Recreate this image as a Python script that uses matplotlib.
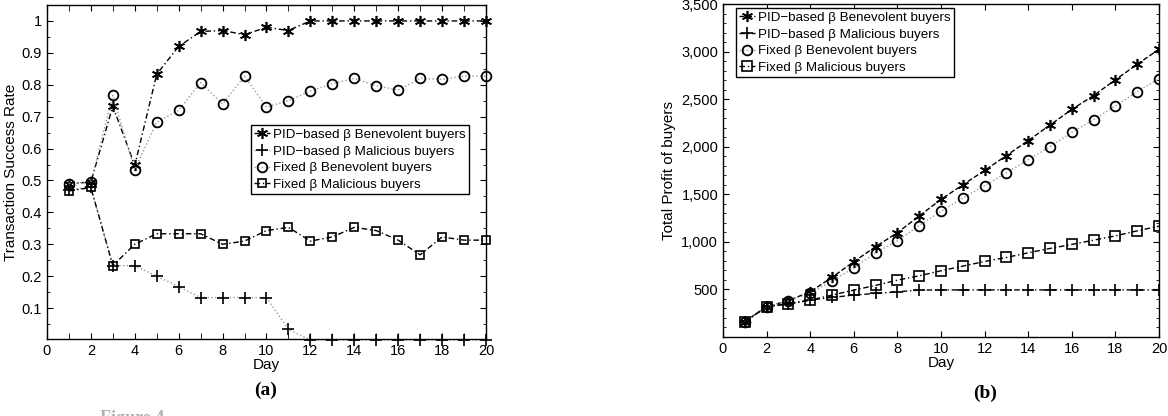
import numpy as np
import matplotlib
matplotlib.use('Agg')
import matplotlib.pyplot as plt
from matplotlib.ticker import MultipleLocator, FuncFormatter

plt.rcParams['font.family'] = ['Liberation Sans', 'DejaVu Sans']

days = np.arange(1, 21)

# (a) transaction success rate
rate_pid_ben = [0.49, 0.495, 0.733, 0.547, 0.833, 0.92, 0.967, 0.97, 0.957, 0.98,
                0.97, 1.0, 1.0, 1.0, 1.0, 1.0, 1.0, 1.0, 1.0, 1.0]
rate_pid_mal = [0.47, 0.48, 0.233, 0.233, 0.2, 0.167, 0.133, 0.133, 0.133, 0.133,
                0.033, 0.0, 0.0, 0.0, 0.0, 0.0, 0.0, 0.0, 0.0, 0.0]
rate_fix_ben = [0.49, 0.495, 0.767, 0.533, 0.683, 0.72, 0.807, 0.74, 0.827, 0.73,
                0.75, 0.78, 0.803, 0.82, 0.797, 0.783, 0.82, 0.817, 0.827, 0.827]
rate_fix_mal = [0.467, 0.478, 0.233, 0.3, 0.333, 0.333, 0.333, 0.3, 0.31, 0.343,
                0.353, 0.31, 0.323, 0.353, 0.343, 0.313, 0.267, 0.323, 0.313, 0.313]

# (b) total profit
prof_pid_ben = [161, 319, 382, 476, 627, 791, 950, 1096, 1272, 1447,
                1600, 1751, 1908, 2065, 2229, 2393, 2539, 2704, 2868, 3025]
prof_pid_mal = [161, 319, 350, 388, 416, 440, 458, 475, 493, 495,
                495, 495, 495, 495, 495, 495, 495, 495, 495, 495]
prof_fix_ben = [160, 318, 380, 458, 590, 727, 885, 1011, 1172, 1322,
                1461, 1591, 1727, 1863, 2002, 2152, 2285, 2431, 2578, 2717]
prof_fix_mal = [160, 318, 346, 388, 440, 493, 542, 598, 643, 696,
                745, 794, 836, 885, 931, 973, 1018, 1063, 1116, 1165]

labels = ['PID\u2212based \u03b2 Benevolent buyers',
          'PID\u2212based \u03b2 Malicious buyers',
          'Fixed \u03b2 Benevolent buyers',
          'Fixed \u03b2 Malicious buyers']

asterisk = (6, 2, 0)
gray = '#9a9a9a'
dashdot = (0, (4, 2, 1, 2))

fig = plt.figure(figsize=(11.68, 4.16), dpi=100)

def style_axes(ax):
    ax.tick_params(which='both', direction='in', top=True, right=True, labelsize=10.5)
    ax.tick_params(which='major', length=4, width=0.8)
    ax.tick_params(which='minor', length=2, width=0.6)
    for sp in ax.spines.values():
        sp.set_linewidth(1.0)

def make_legend(ax, anchor):
    leg = ax.legend(labels, loc='upper left', bbox_to_anchor=anchor, fontsize=9.6,
                    handlelength=1.2, handletextpad=0.25, borderpad=0.25, labelspacing=0.33,
                    fancybox=False, framealpha=1, edgecolor='k', borderaxespad=0)
    leg.get_frame().set_linewidth(1.0)
    return leg

# ---- (a)
ax1 = fig.add_axes([0.0402, 0.185, 0.3759, 0.803])
ax1.plot(days, rate_pid_ben, ls=dashdot, color='k', lw=1.0, marker=asterisk, ms=8, mew=1.2, clip_on=False)
ax1.plot(days, rate_pid_mal, ':', color=gray, lw=1.0, marker='+', ms=8, mec='k', mew=1.2, clip_on=False)
ax1.plot(days, rate_fix_ben, ':', color=gray, lw=1.0, marker='o', ms=7, mfc='none', mec='k', mew=1.3, clip_on=False)
ax1.plot(days, rate_fix_mal, ls=dashdot, color='k', lw=1.0, marker='s', ms=6, mfc='none', mec='k', mew=1.2, clip_on=False)
ax1.set_xlim(0, 20)
ax1.set_ylim(0.003, 1.05)
ax1.xaxis.set_major_locator(MultipleLocator(2))
ax1.xaxis.set_minor_locator(MultipleLocator(1))
ax1.set_yticks(np.arange(0.1, 1.01, 0.1))
ax1.yaxis.set_minor_locator(MultipleLocator(0.05))
ax1.yaxis.set_major_formatter(FuncFormatter(lambda v, p: ('%g' % round(v, 2))))
style_axes(ax1)
ax1.tick_params(axis='x', which='minor', length=4)
ax1.set_xlabel('Day', fontsize=11, labelpad=0)
ax1.set_ylabel('Transaction Success Rate', fontsize=11, labelpad=3)
make_legend(ax1, (0.464, 0.64))

# ---- (b)
ax2 = fig.add_axes([0.619, 0.19, 0.3733, 0.80])
ax2.plot(days, prof_pid_ben, '--', color='k', lw=1.0, marker=asterisk, ms=8, mew=1.2)
ax2.plot(days, prof_pid_mal, ls=dashdot, color='k', lw=1.0, marker='+', ms=8, mew=1.2)
ax2.plot(days, prof_fix_ben, ':', color=gray, lw=1.0, marker='o', ms=7, mfc='none', mec='k', mew=1.3)
ax2.plot(days, prof_fix_mal, ls=dashdot, color='k', lw=1.0, marker='s', ms=7, mfc='none', mec='k', mew=1.2)
ax2.set_xlim(0, 20)
ax2.set_ylim(0, 3500)
ax2.xaxis.set_major_locator(MultipleLocator(2))
ax2.set_yticks(np.arange(500, 3501, 500))
ax2.yaxis.set_minor_locator(MultipleLocator(100))
ax2.yaxis.set_major_formatter(FuncFormatter(lambda v, p: '{:,.0f}'.format(v)))
style_axes(ax2)
ax2.set_xlabel('Day', fontsize=11, labelpad=0)
ax2.set_ylabel('Total Profit of buyers', fontsize=11, labelpad=4)
make_legend(ax2, (0.029, 0.988))

fig.text(266 / 1168, 1 - 390 / 416, '(a)', ha='center', va='center',
         family='Liberation Serif', weight='bold', fontsize=14)
fig.text(985 / 1168, 1 - 393 / 416, '(b)', ha='center', va='center',
         family='Liberation Serif', weight='bold', fontsize=14)
fig.text(100 / 1168, 1 - 410 / 416, 'Figure 4.', ha='left', va='top', color='#b0b0b0',
         family='Liberation Serif', weight='bold', fontsize=13)

fig.savefig('out.png', dpi=100)
